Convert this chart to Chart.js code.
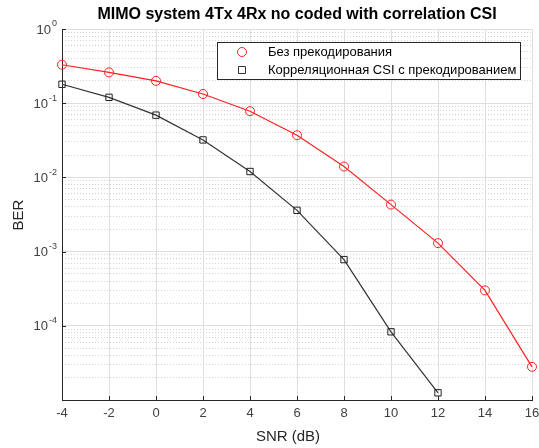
<!DOCTYPE html>
<html>
<head>
<meta charset="utf-8">
<script src="https://cdn.jsdelivr.net/npm/chart.js@4.4.1/dist/chart.umd.min.js"></script>
<style>
  body { margin: 0; background: #fff; }
  #wrap { width: 539px; height: 448px; }
</style>
</head>
<body>
<div id="wrap"><canvas id="chart" width="539" height="448"></canvas></div>
<script>
const snr = [-4, -2, 0, 2, 4, 6, 8, 10, 12, 14, 16];
const berNoPrecoding = [0.33, 0.26, 0.20, 0.133, 0.078, 0.037, 0.014, 0.0043, 0.0013, 0.0003, 2.8e-5];
const berCsiPrecoding = [0.18, 0.12, 0.069, 0.032, 0.012, 0.0036, 0.00078, 8.3e-5, 1.25e-5];
const seriesNames = ['Без прекодирования', 'Корреляционная CSI с прекодированием'];
const yDecades = [0, -1, -2, -3, -4];

const FONT = '"Liberation Sans", Arial, sans-serif';

function toPoints(ys) {
    return ys.map((y, i) => ({ x: snr[i], y }));
}

// title, axis labels, 10^n tick labels, inward ticks and legend box in MATLAB style
const matlabDecor = {
    id: 'matlabDecor',
    afterDraw(chart) {
        const { ctx, chartArea: a } = chart;
        const yScale = chart.scales.y;
        const xScale = chart.scales.x;
        ctx.save();
        ctx.fillStyle = '#000';
        ctx.font = 'bold 16px ' + FONT;
        ctx.textAlign = 'center';
        ctx.textBaseline = 'middle';
        ctx.fillText('MIMO system 4Tx 4Rx no coded with correlation CSI', (a.left + a.right) / 2, 15);

        ctx.fillStyle = '#262626';
        ctx.font = '15px ' + FONT;
        ctx.fillText('SNR (dB)', 288, 437);
        ctx.save();
        ctx.translate(19, 215);
        ctx.rotate(-Math.PI / 2);
        ctx.fillText('BER', 0, 0);
        ctx.restore();

        // inward tick marks
        ctx.strokeStyle = '#262626';
        ctx.lineWidth = 1;
        ctx.beginPath();
        xScale.ticks.forEach(t => {
            const px = Math.round(xScale.getPixelForValue(t.value)) + 0.5;
            ctx.moveTo(px, a.bottom);
            ctx.lineTo(px, a.bottom - 4);
        });
        yDecades.forEach(e => {
            const py = Math.round(yScale.getPixelForValue(Math.pow(10, e))) + 0.5;
            ctx.moveTo(a.left, py);
            ctx.lineTo(a.left + 4, py);
        });
        ctx.stroke();

        // y tick labels 10^n
        ctx.fillStyle = '#404040';
        yDecades.forEach(e => {
            const py = yScale.getPixelForValue(Math.pow(10, e));
            const exp = e === 0 ? '0' : '-' + Math.abs(e);
            ctx.font = '9px ' + FONT;
            ctx.textAlign = 'right';
            ctx.textBaseline = 'middle';
            const ew = ctx.measureText(exp).width;
            ctx.fillText(exp, a.left - 5, py - 5);
            ctx.font = '13px ' + FONT;
            ctx.fillText('10', a.left - 6 - ew, py + 1);
        });
        ctx.restore();

        // legend
        ctx.save();
        const bx = 217, by = 42, bw = 303, bh = 37;
        ctx.fillStyle = '#fff';
        ctx.fillRect(bx, by, bw, bh);
        ctx.strokeStyle = '#262626';
        ctx.lineWidth = 1;
        ctx.strokeRect(bx + 0.5, by + 0.5, bw, bh);
        chart.data.datasets.forEach((ds, i) => {
            const cy = by + 10 + i * 18;
            ctx.strokeStyle = ds.borderColor;
            ctx.beginPath();
            if (ds.pointStyle === 'circle') {
                ctx.arc(242, cy, 4.5, 0, Math.PI * 2);
            } else {
                ctx.rect(238.5, cy - 3.5, 7, 7);
            }
            ctx.stroke();
            ctx.fillStyle = '#000';
            ctx.font = '13px ' + FONT;
            ctx.textAlign = 'left';
            ctx.textBaseline = 'middle';
            ctx.fillText(ds.label, 268, cy);
        });
        ctx.restore();
    }
};

function logTicks(scale, majorOnly) {
    const ticks = [];
    for (let e = -5; e < 0; e++) {
        for (let m = 1; m <= 9; m++) {
            if (majorOnly ? m === 1 : m !== 1) ticks.push({ value: m * Math.pow(10, e) });
        }
    }
    if (majorOnly) ticks.push({ value: 1 });
    scale.ticks = ticks;
}

new Chart(document.getElementById('chart'), {
    type: 'line',
    data: {
        datasets: [
            {
                label: seriesNames[0],
                data: toPoints(berNoPrecoding),
                borderColor: '#ff2020',
                borderWidth: 1.2,
                pointStyle: 'circle',
                pointRadius: 4.5,
                pointBorderWidth: 1,
                pointBackgroundColor: 'rgba(0,0,0,0)',
                pointBorderColor: '#ff2020',
                tension: 0
            },
            {
                label: seriesNames[1],
                data: toPoints(berCsiPrecoding),
                borderColor: '#333333',
                borderWidth: 1.2,
                pointStyle: 'rect',
                pointRadius: 4.5,
                pointBorderWidth: 1,
                pointBackgroundColor: 'rgba(0,0,0,0)',
                pointBorderColor: '#222222',
                tension: 0
            }
        ]
    },
    options: {
        responsive: false,
        animation: false,
        clip: false,
        layout: { padding: { top: 29, right: 7, left: 0, bottom: 0 } },
        plugins: { legend: { display: false }, tooltip: { enabled: false } },
        scales: {
            x: {
                type: 'linear',
                min: -4,
                max: 16,
                ticks: {
                    stepSize: 2,
                    color: '#404040',
                    font: { family: FONT, size: 13 },
                    padding: 6,
                    maxRotation: 0
                },
                grid: { color: '#dedede', drawTicks: false },
                border: { color: '#262626', width: 1 },
                afterFit(scale) {
                    scale.height = 48;
                    scale.paddingLeft = 0;
                    scale.paddingRight = 0;
                }
            },
            yMinor: {
                type: 'logarithmic',
                position: 'left',
                min: 1e-5,
                max: 1,
                afterBuildTicks(scale) { logTicks(scale, false); },
                ticks: { display: false, autoSkip: false },
                grid: { drawTicks: false, color: '#d4d4d4' },
                border: { display: false, dash: [1, 2] },
                afterFit(scale) { scale.width = 0; }
            },
            y: {
                type: 'logarithmic',
                position: 'left',
                min: 1e-5,
                max: 1,
                afterBuildTicks(scale) { logTicks(scale, true); },
                ticks: {
                    autoSkip: false,
                    callback: () => ''
                },
                grid: { drawTicks: false, color: '#dedede' },
                border: { color: '#262626', width: 1 },
                afterFit(scale) { scale.width = 62; }
            }
        }
    },
    plugins: [matlabDecor]
});
</script>
</body>
</html>
